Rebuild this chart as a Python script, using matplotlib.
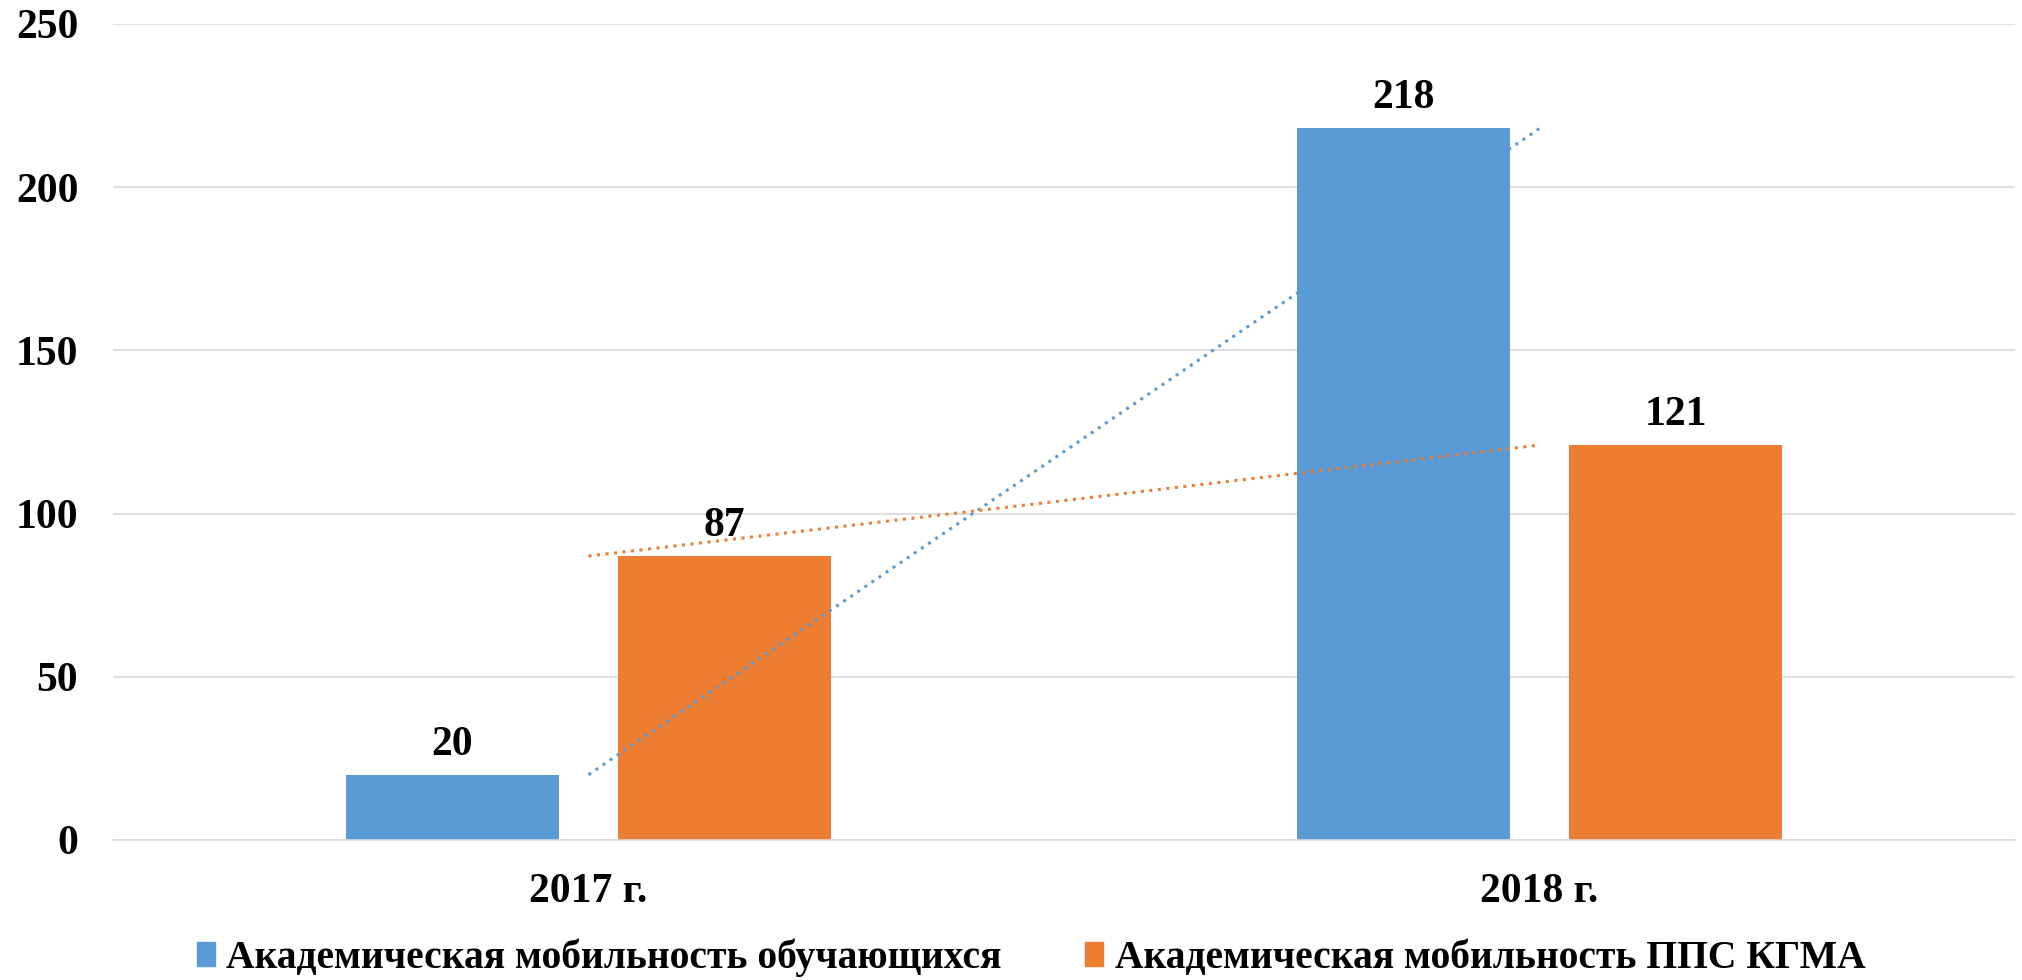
import numpy as np
import matplotlib
matplotlib.use("Agg")
import matplotlib.pyplot as plt
from matplotlib.patches import Patch

# Данные
years = ["2017 г.", "2018 г."]
students = [20, 218]
staff = [87, 121]
series_names = ["Академическая мобильность обучающихся",
                "Академическая мобильность ППС КГМА"]
y_ticks = [0, 50, 100, 150, 200, 250]

blue = "#5B9BD5"
orange = "#ED7D31"
grid_col = "#D9D9D9"

plt.rcParams["font.family"] = ["Liberation Serif", "DejaVu Serif"]
plt.rcParams["font.weight"] = "bold"

fig = plt.figure(figsize=(20.22, 9.8), dpi=100)
ax = fig.add_axes([113 / 2022, 1 - 840 / 980, 1902 / 2022, (840 - 24) / 980])

x = np.arange(len(years))
w = 0.224
off = 0.143

b1 = ax.bar(x - off, students, w, color=blue, zorder=2)
b2 = ax.bar(x + off, staff, w, color=orange, zorder=2)

# линии тренда (линейные, по двум точкам)
ax.plot(x, students, color=blue, lw=2.2, linestyle=(0, (1, 1.8)), zorder=3)
ax.plot(x, staff, color=orange, lw=2.2, linestyle=(0, (1, 1.8)), zorder=3)

ax.bar_label(b1, fontsize=30, fontweight="bold", padding=8, zorder=4)
ax.bar_label(b2, fontsize=30, fontweight="bold", padding=8, zorder=4)

ax.set_xlim(-0.5, 1.5)
ax.set_ylim(0, 250)
ax.set_yticks(y_ticks)
ax.set_xticks(x)
ax.set_xticklabels(years)
ax.tick_params(axis="both", length=0, labelsize=30)
ax.tick_params(axis="y", pad=25)
ax.tick_params(axis="x", pad=24)
for lab in ax.get_xticklabels() + ax.get_yticklabels():
    lab.set_fontweight("bold")

ax.yaxis.grid(True, color=grid_col, lw=1.2, zorder=0)
ax.set_axisbelow(True)
for s in ["top", "right", "left"]:
    ax.spines[s].set_visible(False)
ax.spines["bottom"].set_color(grid_col)
ax.spines["bottom"].set_linewidth(1.2)

handles = [Patch(color=blue), Patch(color=orange)]
fig.legend(handles, series_names, loc="center", bbox_to_anchor=(1031 / 2022, 1 - 958 / 980),
           ncol=2, frameon=False, prop={"size": 28.5, "weight": "bold"},
           handlelength=0.45, handleheight=0.55, handletextpad=0.3, columnspacing=2.1)

fig.savefig("out.png", dpi=100)
